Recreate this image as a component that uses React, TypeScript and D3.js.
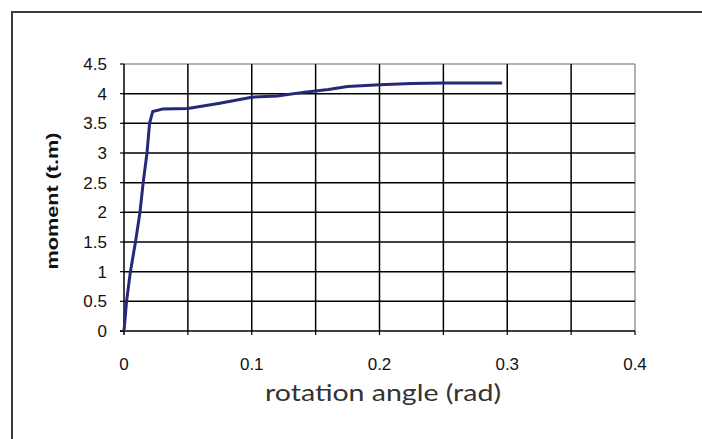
import React from "react";
import * as d3 from "d3";

const angle = [0, 0.002, 0.005, 0.009, 0.0125, 0.015, 0.018, 0.02, 0.0225, 0.03, 0.05, 0.075, 0.1, 0.12, 0.143, 0.16, 0.175, 0.2, 0.225, 0.25, 0.296];
const moment = [0, 0.5, 1.0, 1.5, 2.0, 2.5, 3.0, 3.5, 3.7, 3.74, 3.75, 3.84, 3.94, 3.96, 4.03, 4.07, 4.12, 4.15, 4.17, 4.18, 4.18];
const xTicks = [0, 0.1, 0.2, 0.3, 0.4];
const xGrid = [0.05, 0.1, 0.15, 0.2, 0.25, 0.3, 0.35, 0.4];
const yTicks = [0, 0.5, 1, 1.5, 2, 2.5, 3, 3.5, 4, 4.5];

export default function App() {
  const W = 702, H = 439;
  const x = d3.scaleLinear().domain([0, 0.4]).range([124, 635]);
  const y = d3.scaleLinear().domain([0, 4.5]).range([331, 64]);
  const pts = angle.map((a, i) => [a, moment[i]] as [number, number]);
  const line = d3.line<[number, number]>().x(d => x(d[0])).y(d => y(d[1]));
  const fmt = (v: number) => (v === 0 ? "0" : String(v));
  const tickFont = "Liberation Sans, Arial, sans-serif";
  return (
    <svg width={W} height={H} style={{ position: "absolute", left: 0, top: 0, background: "#fff" }}>
      <rect x={0} y={0} width={W} height={H} fill="#fff" />
      <rect x={12} y={12} width={W + 20} height={H + 20} fill="none" stroke="#3a3a3a" strokeWidth={2} />
      <line x1={x(0)} x2={x(0.4)} y1={y(4.5)} y2={y(4.5)} stroke="#999" strokeWidth={1.5} />
      <line x1={x(0.4)} x2={x(0.4)} y1={y(4.5)} y2={y(0)} stroke="#999" strokeWidth={1.5} />
      {yTicks.filter(v => v > 0 && v < 4.5).map(v => (
        <line key={"h" + v} x1={x(0)} x2={x(0.4)} y1={y(v)} y2={y(v)} stroke="#000" strokeWidth={1.5} />
      ))}
      {xGrid.filter(v => v < 0.4).map(v => (
        <line key={"v" + v} x1={x(v)} x2={x(v)} y1={y(4.5)} y2={y(0)} stroke="#000" strokeWidth={1.5} />
      ))}
      <line x1={x(0)} x2={x(0)} y1={y(4.5)} y2={y(0) + 4} stroke="#000" strokeWidth={1.5} />
      <line x1={x(0) - 4} x2={x(0.4)} y1={y(0)} y2={y(0)} stroke="#000" strokeWidth={1.5} />
      {yTicks.map(v => (
        <line key={"yt" + v} x1={x(0) - 4} x2={x(0)} y1={y(v)} y2={y(v)} stroke="#000" strokeWidth={1.2} />
      ))}
      {xGrid.map(v => (
        <line key={"xt" + v} x1={x(v)} x2={x(v)} y1={y(0)} y2={y(0) + 4} stroke="#000" strokeWidth={1.2} />
      ))}
      {yTicks.map(v => (
        <text key={"yl" + v} x={107} y={y(v) + 6} textAnchor="end" fontFamily={tickFont} fontSize={17} fill="#111">
          {fmt(v)}
        </text>
      ))}
      {xTicks.map(v => (
        <text key={"xl" + v} x={x(v)} y={370} textAnchor="middle" fontFamily={tickFont} fontSize={17} fill="#111">
          {fmt(v)}
        </text>
      ))}
      <path d={line(pts) || ""} fill="none" stroke="#27287a" strokeWidth={3} strokeLinejoin="round" />
      <text x={383} y={401} textAnchor="middle" fontFamily="Lato, Open Sans, sans-serif" fontSize={23} fill="#333"
        textLength={236} lengthAdjust="spacingAndGlyphs">
        rotation angle (rad)
      </text>
      <text transform={`translate(58,201) rotate(-90)`} textAnchor="middle" fontFamily={tickFont} fontWeight="bold" fontSize={16} fill="#111"
        textLength={137} lengthAdjust="spacingAndGlyphs">
        moment (t.m)
      </text>
    </svg>
  );
}
